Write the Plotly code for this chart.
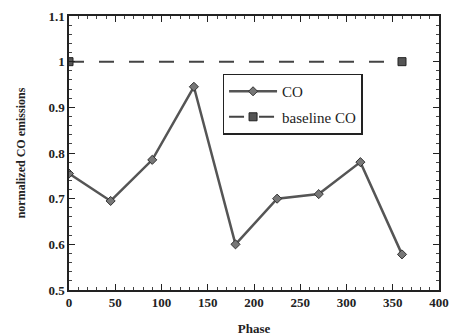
import plotly.graph_objects as go

phase = [0, 45, 90, 135, 180, 225, 270, 315, 360]
co = [0.755, 0.695, 0.785, 0.945, 0.60, 0.70, 0.71, 0.78, 0.578]
base_phase = [0, 360]
base_co = [1.0, 1.0]

tickfont = dict(family="Liberation Serif", size=13, color="#222", weight="bold")

fig = go.Figure()
fig.add_trace(go.Scatter(x=phase, y=co, mode="lines+markers", name="CO", legendgroup="a",
                         line=dict(color="#555", width=2.5),
                         marker=dict(symbol="diamond", size=7, color="#777",
                                     line=dict(color="#333", width=1))))
fig.add_trace(go.Scatter(x=base_phase, y=base_co, mode="lines+markers", name="baseline CO", legendgroup="b",
                         line=dict(color="#444", width=2, dash="longdash"),
                         marker=dict(symbol="square", size=8, color="#555",
                                     line=dict(color="#222", width=1))))

axis_common = dict(showgrid=False, zeroline=False, showline=True, linecolor="#222",
                   linewidth=1.5, mirror="allticks", ticks="inside", ticklen=6,
                   tickwidth=1.2, tickcolor="#222", tickfont=tickfont, automargin=False)
fig.update_xaxes(range=[0, 400], dtick=50, tick0=0,
                 minor=dict(dtick=10, ticks="inside", ticklen=3, tickcolor="#444"),
                 title=dict(text="<b>Phase</b>", font=dict(family="Liberation Serif", size=13, color="#222"), standoff=15),
                 **axis_common)
fig.update_yaxes(range=[0.5, 1.1], dtick=0.1, tick0=0.5, tickformat=".1~f",
                 minor=dict(dtick=0.02, ticks="inside", ticklen=3, tickcolor="#444"),
                 title=dict(text="<b>normalized CO emissions</b>", font=dict(family="Liberation Serif", size=12, color="#222"), standoff=20),
                 **axis_common)

fig.update_layout(width=450, height=336, margin=dict(l=69, r=11, t=16, b=46),
                  paper_bgcolor="white", plot_bgcolor="white",
                  legend=dict(x=0.415, y=0.79, xanchor="left", yanchor="top",
                              bordercolor="#222", borderwidth=1.5, bgcolor="white",
                              tracegroupgap=3, itemwidth=48,
                              font=dict(family="Liberation Serif", size=15, color="#222")))

fig.write_html("out.html")
